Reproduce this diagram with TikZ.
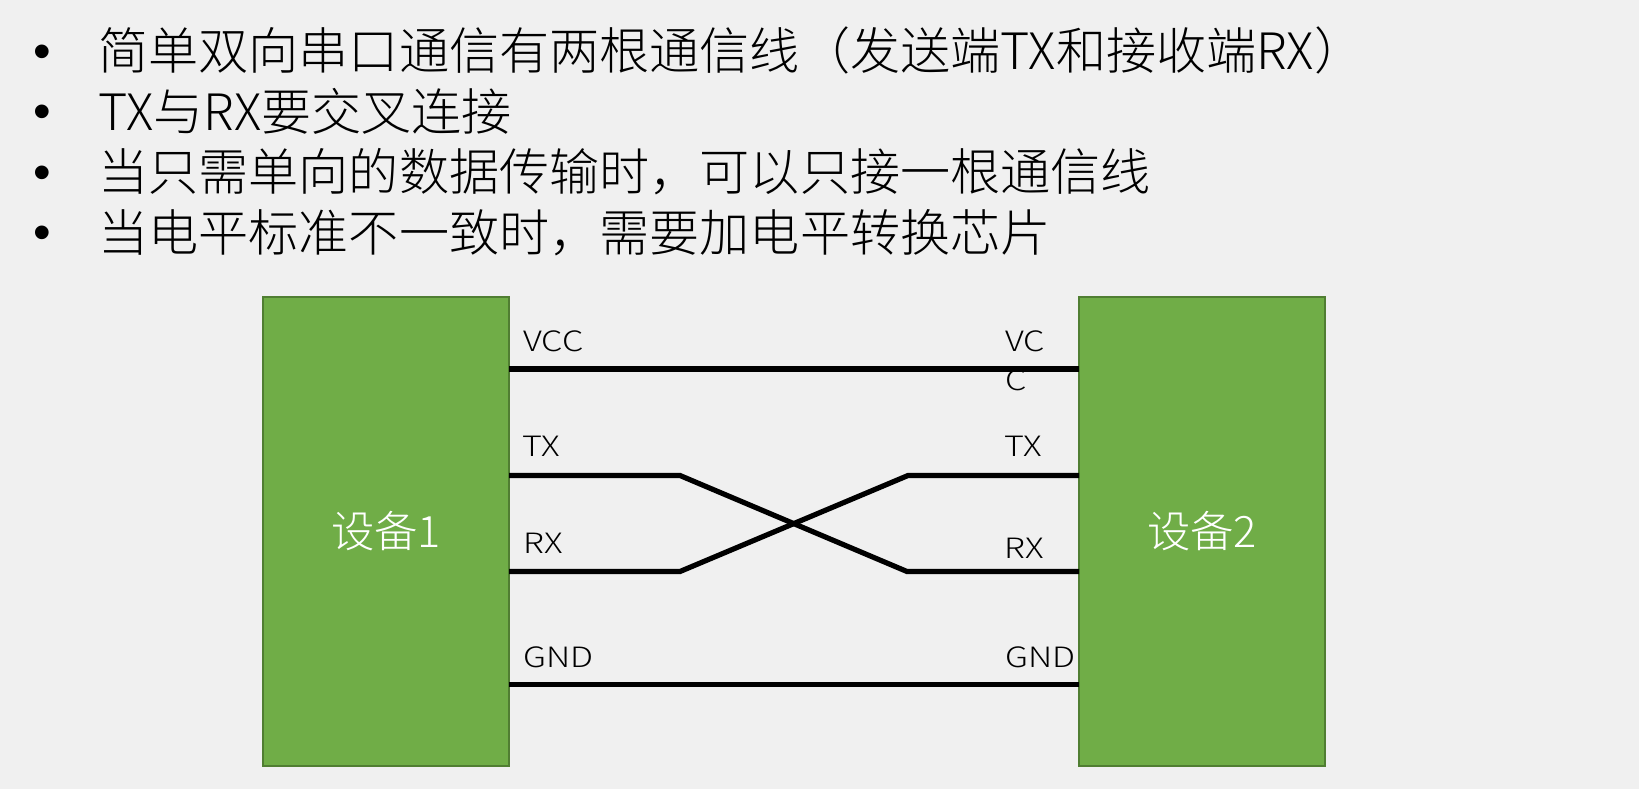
\documentclass[tikz,border=0pt]{standalone}
\usepackage{fontspec}
\setmainfont[UprightFont={* Light},BoldFont={*}]{Noto Sans CJK SC}
\newfontfamily\labelfont[UprightFont={* Light},FakeStretch=1.22]{Noto Sans CJK SC}
\newfontfamily\bulletfont{Liberation Sans}
\definecolor{bgc}{HTML}{F0F0F0}
\definecolor{boxfill}{HTML}{70AD47}
\definecolor{boxedge}{HTML}{507E32}
\tikzset{
  bullettext/.style={anchor=base west,inner sep=0pt,font=\fontsize{37.6}{45}\selectfont,text=black},
  bulletdot/.style={anchor=base west,inner sep=0pt,font=\bulletfont\fontsize{37.7}{45}\selectfont,text=black},
  device/.style={draw=boxedge,fill=boxfill,line width=1.2pt,minimum width=184.5pt,minimum height=352pt,inner sep=0pt,text=white,font=\fontsize{32.5}{38}\selectfont},
  pinlabel/.style={anchor=base west,inner sep=0pt,font=\labelfont\fontsize{21}{29.2}\selectfont,text=black},
  wire/.style={line width=3.9pt,line join=miter,draw=black}
}
\begin{document}
\begin{tikzpicture}[x=0.75pt,y=-0.75pt]
\useasboundingbox[fill=bgc] (0,0) rectangle (1639,789);
\node[bulletdot] (b1) at (33,68) {•};
\node[bulletdot] (b2) at (33,128.5) {•};
\node[bulletdot] (b3) at (33,189) {•};
\node[bulletdot] (b4) at (33,249.5) {•};
\node[bullettext] (t1) at (98,69) {简单双向串口通信有两根通信线（发送端TX和接收端RX）};
\node[bullettext] (t2) at (98,130) {TX与RX要交叉连接};
\node[bullettext] (t3) at (98,190.5) {当只需单向的数据传输时，可以只接一根通信线};
\node[bullettext] (t4) at (98,251) {当电平标准不一致时，需要加电平转换芯片};
\node[device] (dev1) at (386,531.5) {设备1};
\node[device] (dev2) at (1202,531.5) {设备2};
\coordinate (vccL) at (509,369);
\coordinate (vccR) at (1079,369);
\coordinate (txL) at (509,475.5);
\coordinate (txLb) at (680,475.5);
\coordinate (txR) at (1079,475.5);
\coordinate (txRb) at (908,475.5);
\coordinate (rxL) at (509,571.5);
\coordinate (rxLb) at (680,571.5);
\coordinate (rxR) at (1079,571.5);
\coordinate (rxRb) at (907,571.5);
\coordinate (gndL) at (509,684.5);
\coordinate (gndR) at (1079,684.5);
\draw[wire] (vccL) -- (vccR);
\draw[wire] (txL) -- (txLb) -- (rxRb) -- (rxR);
\draw[wire] (rxL) -- (rxLb) -- (txRb) -- (txR);
\draw[wire] (gndL) -- (gndR);
\node[pinlabel] (l1) at (523,351) {VCC};
\node[pinlabel] (l2) at (522.5,456) {TX};
\node[pinlabel] (l3) at (523,553) {RX};
\node[pinlabel] (l4) at (523,667) {GND};
\node[pinlabel] (r1) at (1005,351) {VC};
\node[pinlabel] (r1b) at (1005,390) {C};
\node[pinlabel] (r2) at (1004,456) {TX};
\node[pinlabel] (r3) at (1004.5,558) {RX};
\node[pinlabel] (r4) at (1005,667) {GND};
\end{tikzpicture}
\end{document}
